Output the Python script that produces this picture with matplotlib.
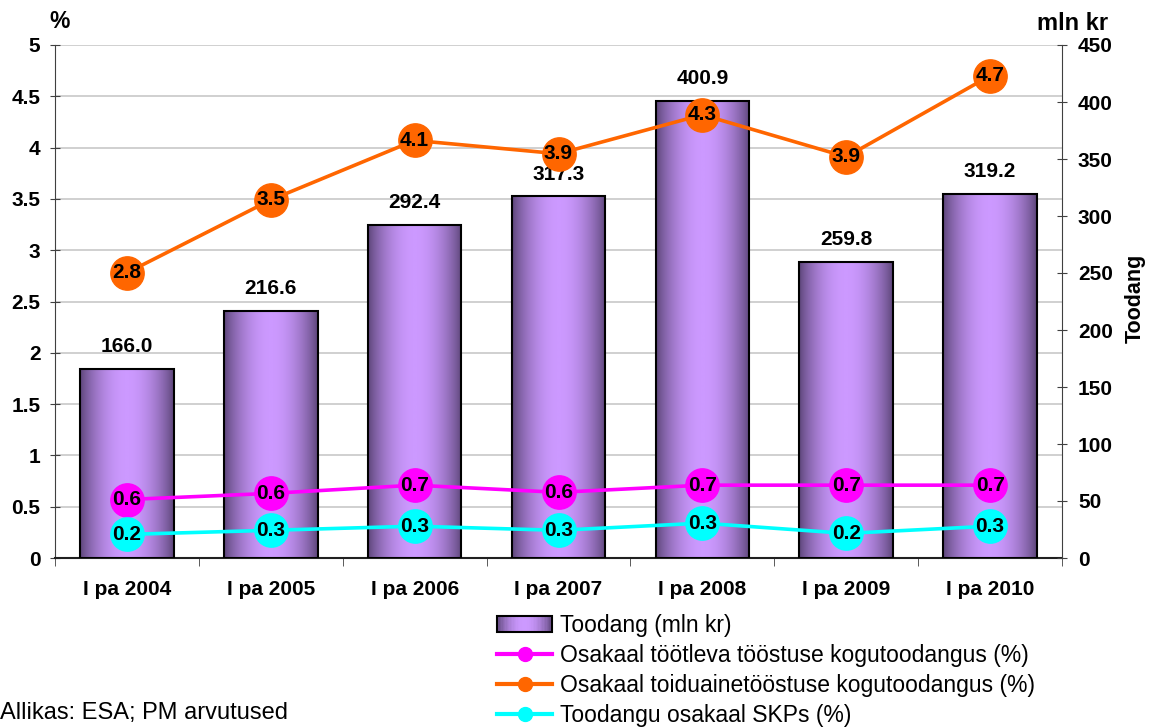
import numpy as np
import matplotlib
matplotlib.use("Agg")
import matplotlib.pyplot as plt
from matplotlib.colors import LinearSegmentedColormap
from matplotlib.lines import Line2D
from matplotlib.patches import Rectangle
from matplotlib.legend_handler import HandlerBase
from matplotlib.ticker import FuncFormatter, MultipleLocator

plt.rcParams['font.family'] = ['Liberation Sans', 'DejaVu Sans']

# ---- data ----
categories = ["I pa 2004", "I pa 2005", "I pa 2006", "I pa 2007", "I pa 2008", "I pa 2009", "I pa 2010"]
toodang = [166.0, 216.6, 292.4, 317.3, 400.9, 259.8, 319.2]
osakaal_tootleva = [0.57, 0.63, 0.71, 0.64, 0.71, 0.71, 0.71]
osakaal_toiduaine = [2.78, 3.49, 4.07, 3.94, 4.32, 3.91, 4.70]
osakaal_skp = [0.23, 0.27, 0.31, 0.27, 0.34, 0.24, 0.31]

labels_legend = ["Toodang (mln kr)",
                 "Osakaal töötleva tööstuse kogutoodangus (%)",
                 "Osakaal toiduainetööstuse kogutoodangus (%)",
                 "Toodangu osakaal SKPs (%)"]

C_MAG = "#FF00FF"
C_ORA = "#FF6600"
C_CYA = "#00FFFF"
DARK = "#5a4476"
LIGHT = "#cc99ff"
cmap = LinearSegmentedColormap.from_list("bar", [DARK, LIGHT])

FS_TICK = 15
W, H = 1152, 728
fig = plt.figure(figsize=(W / 100, H / 100), dpi=100)
L, R, T, B = 55, 1062, 45, 558
rect = [L / W, 1 - B / H, (R - L) / W, (B - T) / H]

x = np.arange(len(categories))

# background axis: left scale + grid
ax = fig.add_axes(rect, zorder=0)
ax.set_xlim(-0.5, len(categories) - 0.5)
ax.set_ylim(0, 5)
ax.yaxis.set_major_locator(MultipleLocator(0.5))
ax.yaxis.set_major_formatter(FuncFormatter(lambda v, p: f"{v:g}"))
ax.grid(axis='y', color='#c8c8c8', linewidth=1.2)
ax.set_axisbelow(True)
ax.set_xticks(x)
ax.set_xticklabels(categories, fontsize=FS_TICK, fontweight='bold')
ax.set_xticks(np.arange(len(categories) + 1) - 0.5, minor=True)
ax.tick_params(axis='x', which='major', length=0, pad=16)
ax.tick_params(axis='x', which='minor', length=6, direction='out', color='#404040')
ax.tick_params(axis='y', which='major', length=7, direction='inout', pad=7,
               labelsize=FS_TICK, color='#404040')
for lab in ax.get_yticklabels():
    lab.set_fontweight('bold')
ax.spines['top'].set_visible(False)
ax.spines['right'].set_visible(False)
ax.spines['left'].set_color('#404040')
ax.spines['bottom'].set_color('#202020')
ax.spines['bottom'].set_linewidth(1.5)

# bars axis: right scale
ax2 = ax.twinx()
ax2.set_zorder(1)
ax2.patch.set_visible(False)
ax2.set_ylim(0, 450)
ax2.yaxis.set_major_locator(MultipleLocator(50))
ax2.tick_params(axis='y', length=7, direction='inout', pad=8, labelsize=FS_TICK, color='#404040')
for lab in ax2.get_yticklabels():
    lab.set_fontweight('bold')
for s in ['top', 'left', 'bottom']:
    ax2.spines[s].set_visible(False)
ax2.spines['right'].set_color('#404040')

bw = 0.65
t = np.linspace(0, 1, 256)
prof = np.sin(np.pi * t) ** 0.8
grad = prof[np.newaxis, :]
bars = ax2.bar(x, toodang, width=bw, facecolor='none', edgecolor='black', linewidth=1.5, zorder=3)
for b in bars:
    x0 = b.get_x()
    ax2.imshow(grad, extent=[x0, x0 + b.get_width(), 0, b.get_height()], aspect='auto',
               cmap=cmap, vmin=0, vmax=1, zorder=2, interpolation='bilinear')
    ax2.annotate(f"{b.get_height():.1f}", (b.get_x() + b.get_width() / 2, b.get_height()),
                 xytext=(0, 12), textcoords='offset points', ha='center', va='baseline',
                 fontsize=FS_TICK, fontweight='bold')
ax2.set_xlim(-0.5, len(categories) - 0.5)
ax2.set_ylim(0, 450)

# lines axis: on top, same scale as left
ax3 = ax.twinx()
ax3.set_zorder(2)
ax3.patch.set_visible(False)
ax3.set_ylim(0, 5)
ax3.set_yticks([])
for s in ax3.spines.values():
    s.set_visible(False)

for vals, col in [(osakaal_tootleva, C_MAG), (osakaal_skp, C_CYA), (osakaal_toiduaine, C_ORA)]:
    ax3.plot(x, vals, color=col, linewidth=2.6, marker='o', markersize=24,
             markerfacecolor=col, markeredgecolor=col, clip_on=False)
    for xi, v in zip(x, vals):
        ax3.text(xi, v, f"{v:.1f}", ha='center', va='center', fontsize=FS_TICK, fontweight='bold')
ax3.set_xlim(-0.5, len(categories) - 0.5)


class HandlerGradient(HandlerBase):
    def create_artists(self, legend, orig_handle, xdescent, ydescent, width, height, fontsize, trans):
        arts = []
        n = 40
        for i in range(n):
            tt = (i + 0.5) / n
            c = cmap(np.sin(np.pi * tt) ** 0.8)
            r = Rectangle((-xdescent + i * width / n, -ydescent), width / n + 0.3, height,
                          facecolor=c, edgecolor='none', transform=trans)
            arts.append(r)
        arts.append(Rectangle((-xdescent, -ydescent), width, height, facecolor='none',
                              edgecolor='black', linewidth=1.5, transform=trans))
        return arts


bar_proxy = Rectangle((0, 0), 1, 1)
h_mag = Line2D([], [], color=C_MAG, linewidth=3, marker='o', markersize=10)
h_ora = Line2D([], [], color=C_ORA, linewidth=3, marker='o', markersize=10)
h_cya = Line2D([], [], color=C_CYA, linewidth=3, marker='o', markersize=10)
fig.legend([bar_proxy, h_mag, h_ora, h_cya], labels_legend,
           handler_map={bar_proxy: HandlerGradient()},
           loc='upper left', bbox_to_anchor=(497 / W, 1 - 614 / H),
           frameon=False, fontsize=16.5, handlelength=2.4, handletextpad=0.33,
           labelspacing=0.31, borderpad=0, borderaxespad=0)

fig.text(60 / W, 1 - 22 / H, "%", ha='center', va='center', fontsize=16.5, fontweight='bold')
fig.text(1073 / W, 1 - 23 / H, "mln kr", ha='center', va='center', fontsize=17, fontweight='bold')
fig.text(1135 / W, 1 - 298 / H, "Toodang", ha='center', va='center', rotation=90,
         fontsize=15.5, fontweight='bold')
fig.text(0, 1 - 713 / H, "Allikas: ESA; PM arvutused", ha='left', va='center', fontsize=17)

fig.savefig("out.png", dpi=100)
